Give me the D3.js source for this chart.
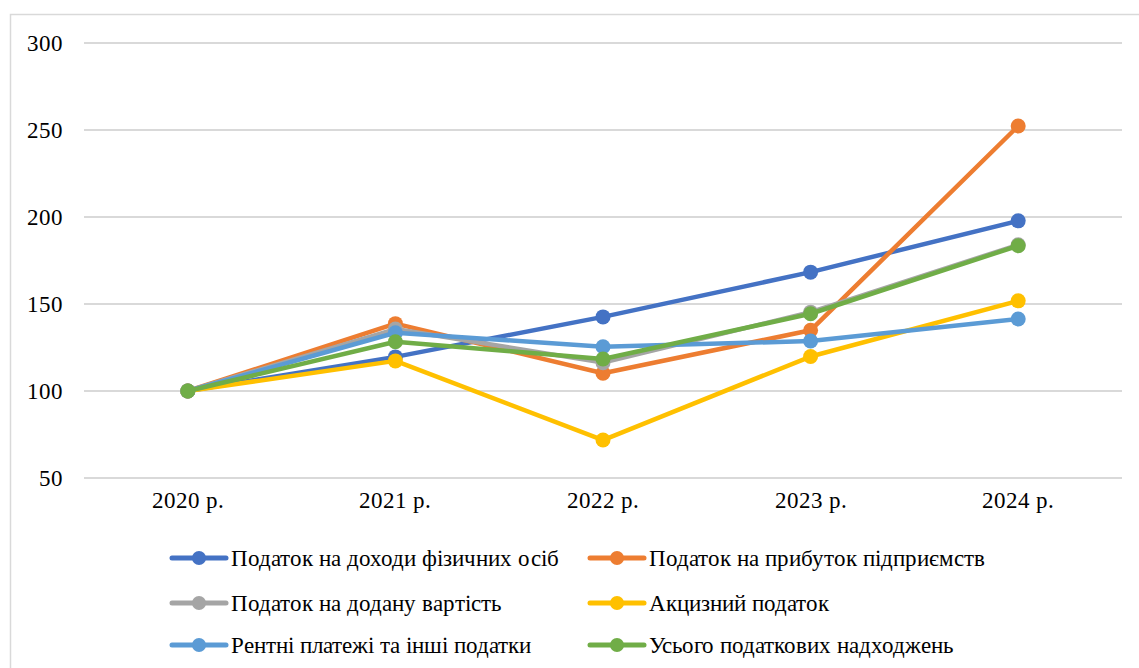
<!DOCTYPE html>
<html>
<head>
<meta charset="utf-8">
<script src="https://cdn.jsdelivr.net/npm/d3@7"></script>
<style>
  @font-face {
    font-family: "ChartSerif";
    src: local("Liberation Serif"), local("LiberationSerif"), local("LiberationSerif-Regular"), local("Times New Roman");
    font-weight: normal;
    font-style: normal;
  }
  html, body { margin: 0; padding: 0; background: #fff; }
  svg { display: block; }
  svg text { font-family: "ChartSerif", "Liberation Serif", "Times New Roman", serif; font-size: 23px; }
</style>
</head>
<body>
<svg id="chart" width="1139" height="668"></svg>
<script>
// Індекси податкових надходжень, 2020 р. = 100
const years = ["2020 р.", "2021 р.", "2022 р.", "2023 р.", "2024 р."];
const yTicks = [50, 100, 150, 200, 250, 300];

const seriesNames = [
  "Податок на доходи фізичних осіб",
  "Податок на прибуток підприємств",
  "Податок на додану вартість",
  "Акцизний податок",
  "Рентні платежі та інші податки",
  "Усього податкових надходжень"
];
const pdfo     = [100, 119.6, 142.6, 168.3, 197.8];
const profit   = [100, 138.7, 110.2, 134.9, 252.3];
const vat      = [100, 135.6, 116.3, 145.3, 184.0];
const excise   = [100, 117.3, 71.8, 119.8, 151.8];
const rent     = [100, 133.5, 125.4, 128.7, 141.4];
const total    = [100, 128.3, 118.4, 144.4, 183.5];
const colors   = ["#4472C4", "#ED7D31", "#A5A5A5", "#FFC000", "#5B9BD5", "#70AD47"];

const seriesValues = [pdfo, profit, vat, excise, rent, total];
const FONT = "ChartSerif, 'Liberation Serif', 'Times New Roman', serif";

const svg = d3.select("#chart");

// Рамка області діаграми
svg.append("path")
  .attr("d", "M10.5,700 V14.5 H1139")
  .attr("fill", "none")
  .attr("stroke", "#d9d9d9")
  .attr("stroke-width", 1.5);

const plot = { left: 84, right: 1122, top: 43, bottom: 478 };

const x = d3.scaleBand().domain(years).range([plot.left, plot.right]);
const y = d3.scaleLinear().domain([50, 300]).range([plot.bottom, plot.top]);

// Горизонтальна сітка
svg.append("g")
  .selectAll("line")
  .data(yTicks)
  .join("line")
  .attr("x1", plot.left)
  .attr("x2", plot.right)
  .attr("y1", d => y(d))
  .attr("y2", d => y(d))
  .attr("stroke", "#d9d9d9")
  .attr("stroke-width", 2);

// Вісь Y
const yAxis = svg.append("g")
  .attr("transform", `translate(${plot.left},0)`)
  .call(d3.axisLeft(y).tickValues(yTicks).tickSize(0).tickPadding(21));
yAxis.select(".domain").remove();
yAxis.attr("font-family", null).attr("font-size", null);
yAxis.selectAll("text")
  .style("font-family", FONT)
  .style("font-size", "23px")
  .attr("fill", "#000");

// Вісь X
const xAxis = svg.append("g")
  .attr("transform", `translate(0,${plot.bottom})`)
  .call(d3.axisBottom(x).tickSize(0).tickPadding(14));
xAxis.select(".domain").remove();
xAxis.attr("font-family", null).attr("font-size", null);
xAxis.selectAll("text")
  .style("font-family", FONT)
  .style("font-size", "23px")
  .attr("fill", "#000");

const cx = d => x(d) + x.bandwidth() / 2;
const line = d3.line().x((d, i) => cx(years[i])).y(d => y(d));

// Лінії та маркери рядів
seriesValues.forEach((vals, s) => {
  const g = svg.append("g");
  g.append("path")
    .datum(vals)
    .attr("d", line)
    .attr("fill", "none")
    .attr("stroke", colors[s])
    .attr("stroke-width", 4.5)
    .attr("stroke-linejoin", "round")
    .attr("stroke-linecap", "round");
  g.selectAll("circle")
    .data(vals)
    .join("circle")
    .attr("cx", (d, i) => cx(years[i]))
    .attr("cy", d => y(d))
    .attr("r", 7.5)
    .attr("fill", colors[s]);
});

// Легенда
const legendCols = [172, 590];
const legendRows = [558, 603, 645];
const legend = svg.append("g");
seriesNames.forEach((name, i) => {
  const lx = legendCols[i % 2];
  const ly = legendRows[Math.floor(i / 2)];
  const item = legend.append("g").attr("transform", `translate(${lx},${ly})`);
  item.append("line")
    .attr("x1", 0).attr("x2", 54)
    .attr("stroke", colors[i])
    .attr("stroke-width", 5)
    .attr("stroke-linecap", "round");
  item.append("circle")
    .attr("cx", 27).attr("r", 7)
    .attr("fill", colors[i]);
  item.append("text")
    .attr("x", 59)
    .attr("dy", "0.35em")
    .style("font-family", FONT)
    .style("font-size", "23px")
    .attr("fill", "#000")
    .text(name);
});
</script>
</body>
</html>
